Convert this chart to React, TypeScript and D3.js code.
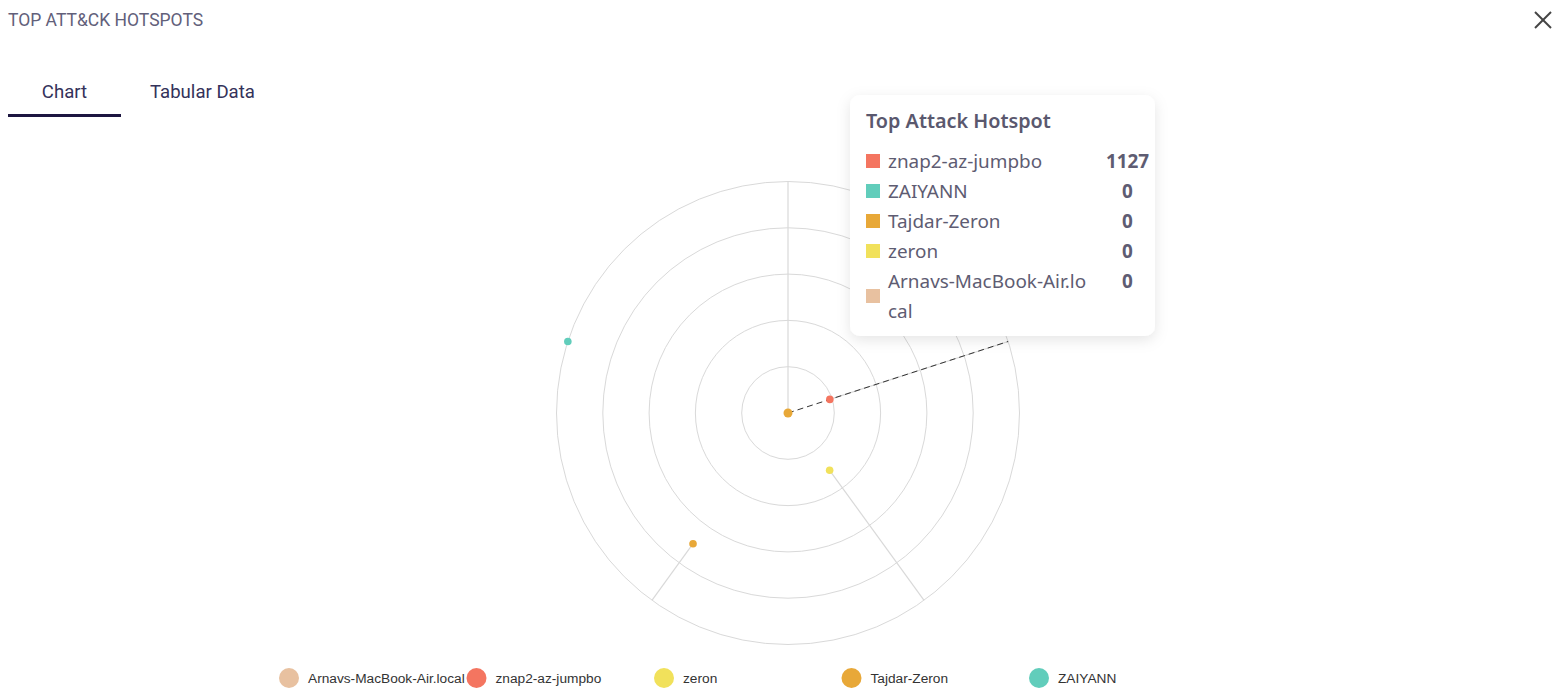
import React from "react";
import * as d3 from "d3";

const hosts = ["Arnavs-MacBook-Air.local", "znap2-az-jumpbo", "zeron", "Tajdar-Zeron", "ZAIYANN"];
const hostColors = ["#e8c1a0", "#f47560", "#f1e15b", "#e8a838", "#61cdbb"];
const radialPos = [0, 0.95, 1.53, 3.49, 5.0];
const ringLevels = [1, 2, 3, 4, 5];

const tooltipNames = ["znap2-az-jumpbo", "ZAIYANN", "Tajdar-Zeron", "zeron", "Arnavs-MacBook-Air.lo|cal"];
const tooltipValues = [1127, 0, 0, 0, 0];
const tooltipColors = ["#f47560", "#61cdbb", "#e8a838", "#f1e15b", "#e8c1a0"];

const W = 1561, H = 697;
const cx = 788, cy = 413, R = 231.5;

export default function App() {
  const rScale = d3.scaleLinear().domain([0, 5]).range([0, R]);
  const aScale = d3.scaleBand<string>().domain(hosts).range([0, 2 * Math.PI]).paddingInner(0).paddingOuter(0).align(0);
  const ang = (h: string) => aScale(h)!;
  const pt = (a: number, r: number) => [cx + r * Math.sin(a), cy - r * Math.cos(a)];
  const legendX = d3.scalePoint<string>().domain(hosts).range([289, 1039]);
  const hoverIdx = 1;
  const ha = ang(hosts[hoverIdx]);
  const [dx2, dy2] = pt(ha, R);

  let rowY = 161;
  const rows = tooltipNames.map((n, i) => {
    const parts = n.split("|");
    const y = rowY;
    rowY += 30 * parts.length;
    return { parts, y, i };
  });

  return (
    <div style={{ position: "absolute", left: 0, top: 0 }}>
      <svg width={W} height={H} style={{ display: "block", background: "#fff" }}>
        <defs>
          <filter id="sh" x="-20%" y="-20%" width="140%" height="150%">
            <feDropShadow dx="0" dy="4" stdDeviation="7" floodColor="#000" floodOpacity="0.10" />
          </filter>
        </defs>
        <text x={8} y={26} fontFamily="Roboto" fontSize={17.5} fill="#62607a">TOP ATT&amp;CK HOTSPOTS</text>
        <g stroke="#444" strokeWidth={2}>
          <line x1={1535} y1={12} x2={1551} y2={28} />
          <line x1={1551} y1={12} x2={1535} y2={28} />
        </g>
        <text x={64.5} y={97.5} textAnchor="middle" fontFamily="Roboto" fontSize={18.6} fill="#34325a">Chart</text>
        <text x={150} y={97.5} fontFamily="Roboto" fontSize={18.6} fill="#34325a">Tabular Data</text>
        <rect x={8} y={114} width={113} height={3} fill="#1c1640" />

        <g fill="none" stroke="#d9d9d9" strokeWidth={1}>
          {ringLevels.map((l) => (
            <circle key={l} cx={cx} cy={cy} r={rScale(l)} />
          ))}
        </g>
        <g stroke="#d9d9d9" strokeWidth={1.2}>
          {hosts.map((h, i) => {
            const a = ang(h);
            const [x1, y1] = pt(a, rScale(radialPos[i]));
            const [x2, y2] = pt(a, R);
            return <line key={h} x1={x1} y1={y1} x2={x2} y2={y2} />;
          })}
        </g>
        <line x1={cx} y1={cy} x2={dx2} y2={dy2} stroke="#333" strokeWidth={1} strokeDasharray="6 4" />
        {hosts.map((h, i) => {
          if (radialPos[i] === 0) return null;
          const [x, y] = pt(ang(h), rScale(radialPos[i]));
          return <circle key={h} cx={x} cy={y} r={3.8} fill={hostColors[i]} />;
        })}
        <circle cx={cx} cy={cy} r={4.5} fill="#e8a838" />

        <g filter="url(#sh)">
          <rect x={850} y={95} width={305} height={241} rx={10} fill="#fff" />
        </g>
        <text x={866} y={128} fontFamily="Noto Sans" fontWeight={600} fontSize={19.8} fill="#5a586e">Top Attack Hotspot</text>
        {rows.map((r) => {
          const sqY = r.parts.length > 1 ? r.y + 15 : r.y;
          return (
            <g key={r.i}>
              <rect x={866} y={sqY - 7} width={14} height={14} fill={tooltipColors[r.i]} />
              {r.parts.map((p, k) => (
                <text key={k} x={888} y={r.y + 6.5 + k * 30} fontFamily="Noto Sans" fontSize={18.9} fill="#5e5c72">{p}</text>
              ))}
              <text x={1127.5} y={r.y + 6.5} textAnchor="middle" fontFamily="Noto Sans" fontWeight={700} fontSize={18.9} fill="#5e5c72">{tooltipValues[r.i]}</text>
            </g>
          );
        })}

        {hosts.map((h, i) => {
          const x = legendX(h)!;
          return (
            <g key={h}>
              <circle cx={x} cy={678} r={10} fill={hostColors[i]} />
              <text x={x + 19} y={682.5} fontFamily="Liberation Sans, Arial" fontSize={13.7} fill="#333">{h}</text>
            </g>
          );
        })}
      </svg>
    </div>
  );
}
